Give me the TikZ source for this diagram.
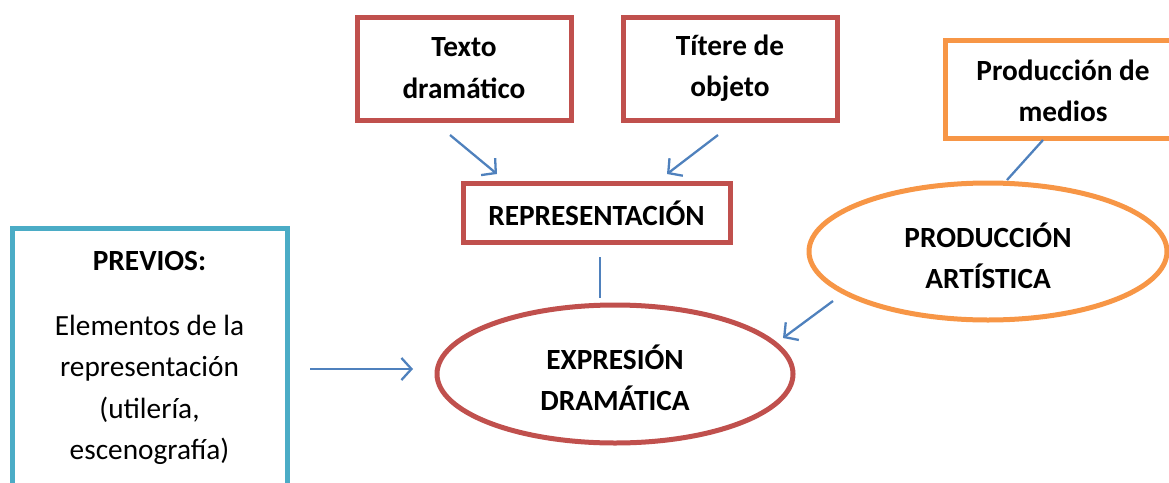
\documentclass[tikz,border=0pt]{standalone}
\usepackage{fontspec}
\setmainfont{Carlito}
\usetikzlibrary{shapes.geometric,arrows.meta}
\definecolor{redb}{HTML}{C0504D}
\definecolor{orangeb}{HTML}{F79646}
\definecolor{tealb}{HTML}{4BACC6}
\definecolor{arrowb}{HTML}{4F81BD}
\tikzset{
  txt/.style={font=\fontsize{29.3}{41.5}\selectfont, align=center, inner sep=0pt},
  btxt/.style={txt, font=\fontsize{29.3}{41.5}\selectfont\bfseries},
  redbox/.style={draw=redb, line width=5pt, rectangle, inner sep=0pt},
  orabox/.style={draw=orangeb, line width=5pt, rectangle, inner sep=0pt},
  tealbox/.style={draw=tealb, line width=5pt, rectangle, inner sep=0pt},
  redell/.style={draw=redb, line width=5pt, ellipse, inner sep=0pt},
  oraell/.style={draw=orangeb, line width=5pt, ellipse, inner sep=0pt},
  conn/.style={draw=arrowb, line width=2.3pt},
  arr/.style={conn, -{Straight Barb[length=10pt,width=22pt,line width=2.3pt]}},
}
\begin{document}
\begin{tikzpicture}[x=1pt,y=-1pt]
\useasboundingbox (0,0) rectangle (1169,482);
\clip (0,0) rectangle (1169,482);

% boxes
\node[redbox, minimum width=214pt, minimum height=103pt] (texto) at (464,68.5) {};
\node[btxt] (textot) at (464,68) {Texto\\dramático};
\node[redbox, minimum width=214pt, minimum height=103pt] (titere) at (730,68.5) {};
\node[btxt] (titeret) at (730,68) {Títere de\\objeto};
\node[redbox, minimum width=267pt, minimum height=59pt] (repr) at (596.5,212.5) {};
\node[btxt] (reprt) at (596.5,213) {REPRESENTACIÓN};
\node[orabox, minimum width=236pt, minimum height=98pt] (medios) at (1063,89) {};
\node[btxt] (mediost) at (1063,91) {Producción de\\medios};
\node[oraell, minimum width=358pt, minimum height=137pt] (prodart) at (988,251.5) {};
\node[btxt] (prodartt) at (988,256) {PRODUCCIÓN\\ARTÍSTICA};
\node[redell, minimum width=356pt, minimum height=138pt] (expr) at (615,374) {};
\node[btxt] (exprt) at (615,378) {EXPRESIÓN\\DRAMÁTICA};
\node[tealbox, minimum width=275pt, minimum height=290pt] (prev) at (149.5,373) {};
\node[btxt] (prevt) at (149.5,261) {PREVIOS:};
\node[txt] (preve) at (149.5,390) {Elementos de la\\representación\\(utilería,\\escenografía)};

% connector ends
\coordinate (a1s) at (450,135);
\coordinate (a1e) at (497,174);
\coordinate (a2s) at (718,135);
\coordinate (a2e) at (667,174);
\coordinate (l1s) at (1043,140);
\coordinate (l1e) at (1007,180);
\coordinate (a3s) at (833,301);
\coordinate (a3e) at (783,338);
\coordinate (l2s) at (600,257);
\coordinate (l2e) at (600,298);
\coordinate (a4s) at (310,369);
\coordinate (a4e) at (413,369);

\draw[arr] (a1s) -- (a1e);
\draw[arr] (a2s) -- (a2e);
\draw[conn] (l1s) -- (l1e);
\draw[arr] (a3s) -- (a3e);
\draw[conn] (l2s) -- (l2e);
\draw[arr] (a4s) -- (a4e);
\end{tikzpicture}
\end{document}
